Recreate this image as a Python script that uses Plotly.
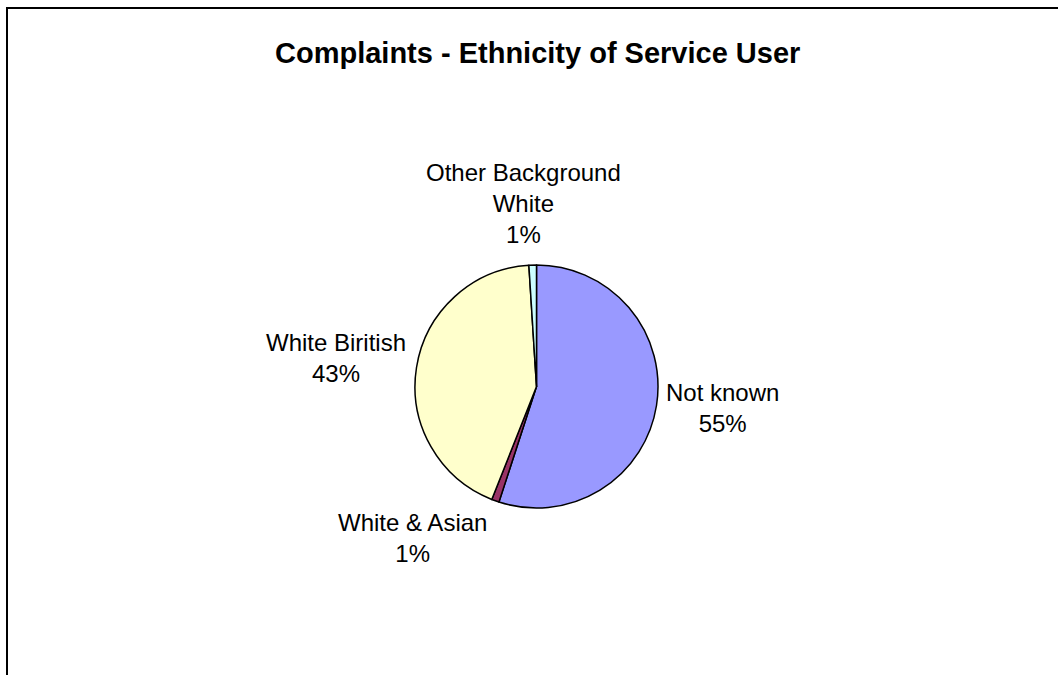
import plotly.graph_objects as go

W, H = 1058, 675

labels = ["Not known", "White & Asian", "White Biritish", "Other Background White"]
values = [55, 1, 43, 1]
colors = ["#9999FF", "#993366", "#FFFFCC", "#CCFFFF"]
title_text = "Complaints - Ethnicity of Service User"

# label anchor positions in pixels (layout only)
label_pos = {
    "Not known": (722, 408),
    "White & Asian": (412, 538),
    "White Biritish": (336, 358),
    "Other Background White": (523, 203),
}

FONT = "Liberation Sans, Arial, sans-serif"

fig = go.Figure(go.Pie(
    labels=labels,
    values=values,
    marker=dict(colors=colors, line=dict(color="black", width=1.5)),
    sort=False,
    direction="clockwise",
    rotation=0,
    textinfo="none",
    hoverinfo="label+percent",
    showlegend=False,
    domain=dict(x=[415 / W, 658 / W], y=[167 / H, 410 / H]),
))

total = sum(values)
annotations = [dict(
    text=f"<b>{title_text}</b>", x=537 / W, y=1 - 53 / H, xref="paper", yref="paper",
    xanchor="center", yanchor="middle", showarrow=False,
    font=dict(family=FONT, size=29, color="black"),
)]
for lab, v in zip(labels, values):
    px, py = label_pos[lab]
    txt = lab.replace("Background ", "Background<br>") + f"<br>{round(100 * v / total)}%"
    annotations.append(dict(
        text=txt, x=px / W, y=1 - py / H, xref="paper", yref="paper",
        xanchor="center", yanchor="middle", showarrow=False, align="center",
        font=dict(family=FONT, size=24, color="black"),
    ))

fig.update_layout(
    width=W, height=H,
    margin=dict(l=0, r=0, t=0, b=0),
    paper_bgcolor="white", plot_bgcolor="white",
    annotations=annotations,
    shapes=[dict(type="rect", xref="paper", yref="paper",
                 x0=7 / W, x1=1.1, y0=-0.1, y1=1 - 8 / H,
                 line=dict(color="black", width=2), fillcolor="rgba(0,0,0,0)")],
)

fig.write_html("out.html")
